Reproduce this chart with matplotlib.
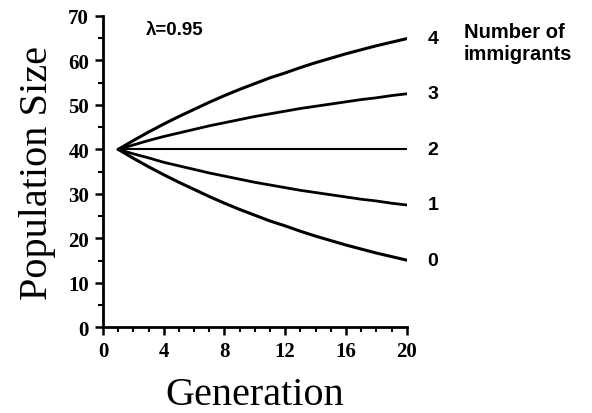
import matplotlib

matplotlib.use("Agg")
import matplotlib.pyplot as plt
from matplotlib.ticker import MultipleLocator

# population size per generation (1..20), lambda = 0.95
generations = list(range(1, 21))
immigrants = [4, 3, 2, 1, 0]
pop_4 = [40, 42.0, 43.9, 45.7, 47.4, 49.0, 50.6, 52.1, 53.5, 54.8,
         56.1, 57.2, 58.4, 59.5, 60.5, 61.5, 62.4, 63.3, 64.1, 64.9]
pop_3 = [40, 41.0, 42.0, 42.9, 43.7, 44.5, 45.3, 46.0, 46.7, 47.4,
         48.0, 48.6, 49.2, 49.7, 50.2, 50.7, 51.2, 51.6, 52.1, 52.5]
pop_2 = [40] * 20
pop_1 = [40, 39.0, 38.1, 37.1, 36.3, 35.5, 34.7, 34.0, 33.3, 32.6,
         32.0, 31.4, 30.8, 30.3, 29.8, 29.3, 28.8, 28.4, 27.9, 27.5]
pop_0 = [40, 38.0, 36.1, 34.3, 32.6, 31.0, 29.4, 27.9, 26.5, 25.2,
         23.9, 22.8, 21.6, 20.5, 19.5, 18.5, 17.6, 16.7, 15.9, 15.1]
series = [pop_4, pop_3, pop_2, pop_1, pop_0]
widths = [2.2, 2.0, 1.5, 2.0, 2.2]

fig = plt.figure(figsize=(5.92, 4.14), dpi=100)
ax = fig.add_axes([0.174, 0.207, 0.513, 0.752])

for n, ys, lw in zip(immigrants, series, widths):
    ax.plot(generations, ys, color="black", lw=lw, solid_capstyle="round")
    ax.annotate(str(n), (generations[-1], ys[-1]), xytext=(19, 0),
                textcoords="offset points", va="center", ha="center",
                fontsize=14, fontweight="bold", family="Liberation Sans")

ax.set_xlim(0, 20)
ax.set_ylim(0, 70)
ax.xaxis.set_major_locator(MultipleLocator(4))
ax.xaxis.set_minor_locator(MultipleLocator(1))
ax.yaxis.set_major_locator(MultipleLocator(10))
ax.yaxis.set_minor_locator(MultipleLocator(5))
for s in ["top", "right"]:
    ax.spines[s].set_visible(False)
for s in ["left", "bottom"]:
    ax.spines[s].set_linewidth(2)
ax.tick_params(which="major", length=6, width=1.8, direction="out", pad=4)
ax.tick_params(which="minor", length=3.5, width=1.5, direction="out")
for lab in ax.get_xticklabels() + ax.get_yticklabels():
    lab.set_family("Liberation Serif")
    lab.set_fontweight("bold")
    lab.set_fontsize(15)

ax.set_xlabel("Generation", family="Liberation Serif", fontsize=29, labelpad=11)
ax.set_ylabel("Population Size", family="Liberation Serif", fontsize=29, labelpad=9)

ax.text(2.8, 67, "\u03bb=0.95", fontsize=13.5, fontweight="bold",
        family="Liberation Sans", va="center")
fig.text(0.783, 0.895, "Number of\nimmigrants", fontsize=14.5, fontweight="bold",
         family="Liberation Sans", va="center", ha="left", multialignment="left",
         linespacing=1.2)

fig.savefig("out.png", dpi=100)
